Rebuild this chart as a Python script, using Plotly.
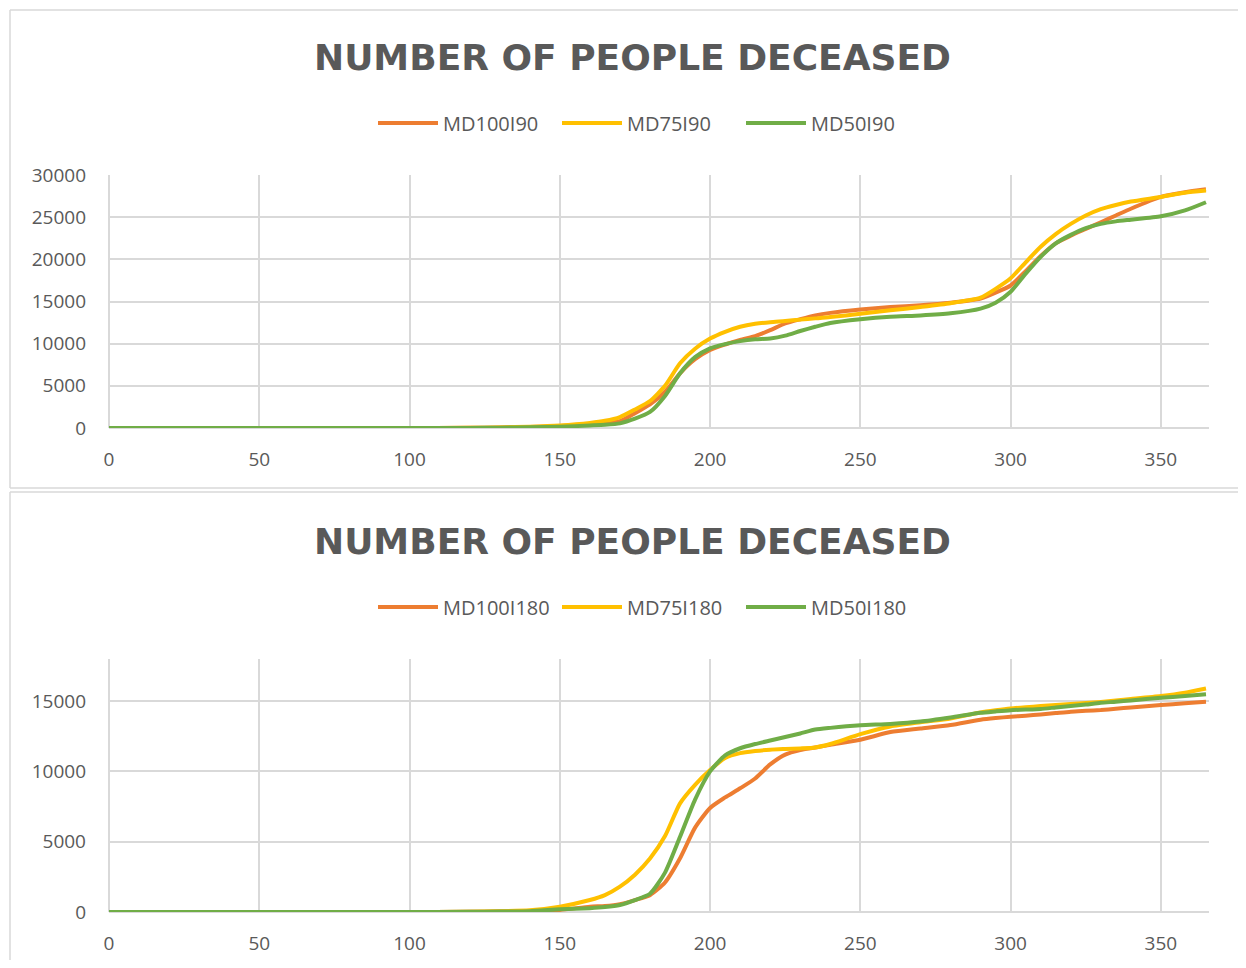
import plotly.graph_objects as go
from plotly.subplots import make_subplots

# days on the x axis
days = [0, 100, 120, 130, 140, 150, 160, 165, 170, 175, 180, 185, 190, 195, 200,
        205, 210, 215, 220, 225, 230, 235, 240, 250, 260, 270, 280, 290, 295, 300,
        305, 310, 315, 320, 325, 330, 335, 340, 350, 358, 365]

# top chart: I = 90
md100_i90 = [0, 0, 20, 60, 120, 250, 450, 600, 800, 1750, 2800, 4300, 6490, 8150, 9250,
             9900, 10450, 10900, 11600, 12400, 12900, 13350, 13650, 14050, 14350, 14550, 14850, 15350, 16050, 16900,
             18600, 20400, 21900, 22800, 23600, 24400, 25200, 26000, 27400, 27950, 28300]
md75_i90 = [0, 0, 20, 70, 150, 300, 600, 850, 1300, 2200, 3200, 5000, 7670, 9400, 10600,
            11400, 12000, 12350, 12550, 12680, 12850, 13000, 13150, 13550, 13950, 14350, 14800, 15450, 16500, 17750,
            19650, 21500, 23000, 24200, 25200, 25950, 26450, 26850, 27400, 27900, 28150]
md50_i90 = [0, 0, 10, 40, 80, 150, 300, 380, 550, 1100, 1900, 3800, 6490, 8400, 9450,
            9950, 10300, 10520, 10620, 10950, 11500, 12000, 12450, 12900, 13200, 13350, 13600, 14150, 14850, 16150,
            18300, 20300, 21900, 22900, 23700, 24200, 24500, 24700, 25100, 25800, 26770]

# bottom chart: I = 180
md100_i180 = [0, 0, 10, 30, 60, 150, 380, 430, 560, 850, 1200, 2100, 3820, 6000, 7400,
              8150, 8800, 9500, 10500, 11200, 11520, 11700, 11900, 12250, 12800, 13050, 13300, 13680, 13800, 13890,
              13970, 14050, 14150, 14250, 14310, 14370, 14460, 14550, 14720, 14850, 14950]
md75_i180 = [0, 0, 20, 50, 120, 380, 850, 1200, 1800, 2650, 3800, 5400, 7730, 9050, 10100,
             10950, 11300, 11450, 11550, 11600, 11640, 11710, 11950, 12650, 13200, 13500, 13770, 14200, 14350, 14480,
             14570, 14650, 14720, 14800, 14870, 14950, 15050, 15150, 15360, 15600, 15900]
md50_i180 = [0, 0, 10, 30, 60, 190, 270, 350, 500, 850, 1300, 2800, 5350, 8000, 10000,
             11150, 11650, 11950, 12200, 12450, 12700, 12980, 13100, 13280, 13380, 13550, 13840, 14170, 14270, 14360,
             14400, 14450, 14550, 14650, 14760, 14880, 14960, 15050, 15240, 15370, 15500]

names_top = ['MD100I90', 'MD75I90', 'MD50I90']
names_bottom = ['MD100I180', 'MD75I180', 'MD50I180']
colors = ['#ED7D31', '#FFC000', '#70AD47']

# page body has an 8px margin, keep the figure inside the 1246x968 window
OFF = 8
W, H = 1246 - 2 * OFF, 968 - 2 * OFF
GREY = '#595959'
GRID = '#d9d9d9'


def px_x(p):
    return (p - OFF) / W


def px_y(p):
    return 1 - (p - OFF) / H


fig = make_subplots(rows=2, cols=1)

for name, vals, col in zip(names_top, [md100_i90, md75_i90, md50_i90], colors):
    fig.add_trace(go.Scatter(x=days, y=vals, name=name, mode='lines',
                             line=dict(color=col, width=4, shape='spline', smoothing=0.6),
                             legend='legend'), 1, 1)

for name, vals, col in zip(names_bottom, [md100_i180, md75_i180, md50_i180], colors):
    fig.add_trace(go.Scatter(x=days, y=vals, name=name, mode='lines',
                             line=dict(color=col, width=4, shape='spline', smoothing=0.6),
                             legend='legend2'), 2, 1)

axis_font = dict(family='Open Sans', size=19, color=GREY)

x_common = dict(range=[0, 366], tick0=0, dtick=50, showgrid=True, gridcolor=GRID, gridwidth=1.5,
                zeroline=True, zerolinecolor=GRID, zerolinewidth=1.5, showline=False,
                tickfont=axis_font, ticks='', ticklabelstandoff=18, automargin=False,
                domain=[px_x(109), px_x(1209)])
y_common = dict(tick0=0, dtick=5000, showgrid=True, gridcolor=GRID, gridwidth=1.5,
                zeroline=True, zerolinecolor=GRID, zerolinewidth=1.5, showline=False,
                tickfont=axis_font, ticks='', ticklabelstandoff=22, tickformat='d', automargin=False)

fig.update_xaxes(**x_common)
fig.update_yaxes(**y_common)
fig.update_yaxes(range=[0, 30000], domain=[px_y(428), px_y(175)], row=1, col=1)
fig.update_yaxes(range=[0, 18000], domain=[px_y(912), px_y(659)], row=2, col=1)

legend_style = dict(orientation='h', xanchor='center', yanchor='middle', x=px_x(649),
                    font=dict(family='Open Sans', size=20, color=GREY),
                    bgcolor='rgba(0,0,0,0)', itemwidth=60, tracegroupgap=0,
                    entrywidth=109, entrywidthmode='pixels')

title_font = dict(family='DejaVu Sans', size=36, color=GREY, weight='bold')

# panel frames, kept inside the figure so the page does not overflow
frame = dict(color=GRID, width=1.5)
frame_lines = [
    (10, 10, 1246, 10), (10, 10, 10, 488), (10, 488, 1246, 488),
    (10, 492, 1246, 492), (10, 492, 10, 968),
]
shapes = [dict(type='line', xref='paper', yref='paper', layer='below', line=frame,
               x0=px_x(a), y0=max(0, px_y(b)), x1=min(1, px_x(c)), y1=max(0, px_y(d)))
          for a, b, c, d in frame_lines]

fig.update_layout(
    width=W,
    height=H,
    # no automatic margin growth, positions are set in pixels above
    margin=dict(l=0, r=0, t=0, b=0, autoexpand=False),
    paper_bgcolor='white',
    plot_bgcolor='white',
    showlegend=True,
    legend=dict(**legend_style, y=px_y(123)),
    legend2=dict(**legend_style, y=px_y(607)),
    annotations=[
        dict(text='NUMBER OF PEOPLE DECEASED', x=px_x(632), y=px_y(57), xref='paper', yref='paper',
             xanchor='center', yanchor='middle', showarrow=False, font=title_font),
        dict(text='NUMBER OF PEOPLE DECEASED', x=px_x(632), y=px_y(541), xref='paper', yref='paper',
             xanchor='center', yanchor='middle', showarrow=False, font=title_font),
    ],
    shapes=shapes,
)

fig.write_html("out.html")
